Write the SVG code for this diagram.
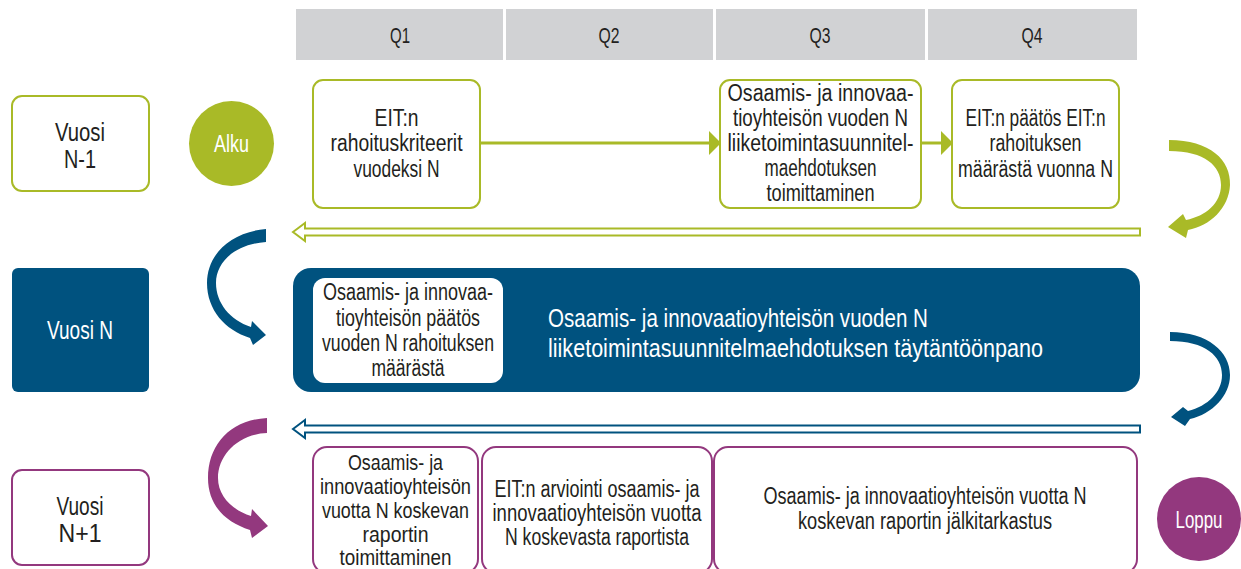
<svg xmlns="http://www.w3.org/2000/svg" width="1241" height="569" viewBox="0 0 1241 569">
<style>
text{font-family:"Liberation Sans",Arial,sans-serif;text-anchor:middle;fill:#231f20}
.hdr{fill:#d1d2d4}
.q{font-size:22px}
.t{font-size:23px}
.s{font-size:22px}
.big{font-size:25px;fill:#fff;text-anchor:start}
.yr{font-size:25px}
.w{fill:#fff}
.gbox{fill:#fff;stroke:#a9ba27;stroke-width:2}
.pbox{fill:#fff;stroke:#93387e;stroke-width:2}
.gfill{fill:#a9ba27}
.bfill{fill:#00527f}
.pfill{fill:#93387e}
.line{stroke:#a9ba27;stroke-width:3;fill:none}
</style>
<defs>
<marker id="ah" markerWidth="12" markerHeight="24" refX="11" refY="12" orient="auto" markerUnits="userSpaceOnUse">
<path d="M0,0 L12,12 L0,24 Z" fill="#a9ba27"/>
</marker>
</defs>

<g id="header">
<rect class="hdr" x="296" y="9" width="207" height="51"/>
<rect class="hdr" x="506" y="9" width="207" height="51"/>
<rect class="hdr" x="716" y="9" width="209" height="51"/>
<rect class="hdr" x="928" y="9" width="209" height="51"/>
<text class="q" x="400" y="43" textLength="20" lengthAdjust="spacingAndGlyphs">Q1</text>
<text class="q" x="609" y="43" textLength="21" lengthAdjust="spacingAndGlyphs">Q2</text>
<text class="q" x="820" y="43" textLength="21" lengthAdjust="spacingAndGlyphs">Q3</text>
<text class="q" x="1032" y="43" textLength="21" lengthAdjust="spacingAndGlyphs">Q4</text>
</g>

<g id="vuosi-n-1">
<rect class="gbox" x="12" y="96" width="137" height="95" rx="10"/>
<text class="yr" x="80" y="141" textLength="50" lengthAdjust="spacingAndGlyphs">Vuosi</text>
<text class="yr" x="80" y="168" textLength="32" lengthAdjust="spacingAndGlyphs">N-1</text>
</g>

<g id="alku">
<circle class="gfill" cx="231.5" cy="143.5" r="42.5"/>
<text class="t w" x="231.5" y="152" textLength="35" lengthAdjust="spacingAndGlyphs">Alku</text>
</g>

<g id="box-q1">
<rect class="gbox" x="313" y="80" width="167" height="128" rx="10"/>
<text class="t" x="396.5" y="126" textLength="44" lengthAdjust="spacingAndGlyphs">EIT:n</text>
<text class="t" x="396.5" y="151" textLength="132" lengthAdjust="spacingAndGlyphs">rahoituskriteerit</text>
<text class="t" x="396.5" y="177" textLength="86" lengthAdjust="spacingAndGlyphs">vuodeksi N</text>
</g>

<g id="box-q3">
<rect class="gbox" x="720" y="80" width="201" height="128" rx="10"/>
<text class="t" x="820.5" y="101" textLength="186" lengthAdjust="spacingAndGlyphs">Osaamis- ja innovaa-</text>
<text class="t" x="820.5" y="126" textLength="175" lengthAdjust="spacingAndGlyphs">tioyhteisön vuoden N</text>
<text class="t" x="820.5" y="151" textLength="186" lengthAdjust="spacingAndGlyphs">liiketoimintasuunnitel-</text>
<text class="t" x="820.5" y="176" textLength="112" lengthAdjust="spacingAndGlyphs">maehdotuksen</text>
<text class="t" x="820.5" y="201" textLength="108" lengthAdjust="spacingAndGlyphs">toimittaminen</text>
</g>

<g id="box-q4">
<rect class="gbox" x="952" y="80" width="167" height="128" rx="10"/>
<text class="t" x="1035.5" y="126" textLength="140" lengthAdjust="spacingAndGlyphs">EIT:n päätös EIT:n</text>
<text class="t" x="1035.5" y="151" textLength="92" lengthAdjust="spacingAndGlyphs">rahoituksen</text>
<text class="t" x="1035.5" y="177" textLength="155" lengthAdjust="spacingAndGlyphs">määrästä vuonna N</text>
</g>

<g id="vuosi-n">
<rect class="bfill" x="12" y="268" width="137" height="124" rx="6"/>
<text class="yr w" x="80" y="339" textLength="66" lengthAdjust="spacingAndGlyphs">Vuosi N</text>
</g>

<g id="toteutus">
<rect class="bfill" x="293" y="268" width="847" height="124" rx="18"/>
<text class="big" x="548" y="327" textLength="380" lengthAdjust="spacingAndGlyphs">Osaamis- ja innovaatioyhteisön vuoden N</text>
<text class="big" x="548" y="357" textLength="495" lengthAdjust="spacingAndGlyphs">liiketoimintasuunnitelmaehdotuksen täytäntöönpano</text>
</g>

<g id="paatos">
<rect fill="#fff" x="313" y="278" width="190" height="105" rx="12"/>
<text class="t" x="408" y="300" textLength="170" lengthAdjust="spacingAndGlyphs">Osaamis- ja innovaa-</text>
<text class="t" x="408" y="326" textLength="144" lengthAdjust="spacingAndGlyphs">tioyhteisön päätös</text>
<text class="t" x="408" y="351" textLength="172" lengthAdjust="spacingAndGlyphs">vuoden N rahoituksen</text>
<text class="t" x="408" y="376" textLength="73" lengthAdjust="spacingAndGlyphs">määrästä</text>
</g>

<g id="vuosi-n1">
<rect class="pbox" x="12" y="470" width="137" height="95" rx="10"/>
<text class="yr" x="80" y="515" textLength="47" lengthAdjust="spacingAndGlyphs">Vuosi</text>
<text class="yr" x="80" y="542" textLength="43" lengthAdjust="spacingAndGlyphs">N+1</text>
</g>

<g id="raportti">
<rect class="pbox" x="313" y="447" width="165" height="126" rx="14"/>
<text class="s" x="395.5" y="470" textLength="95" lengthAdjust="spacingAndGlyphs">Osaamis- ja</text>
<text class="s" x="395.5" y="494" textLength="151" lengthAdjust="spacingAndGlyphs">innovaatioyhteisön</text>
<text class="s" x="395.5" y="518" textLength="147" lengthAdjust="spacingAndGlyphs">vuotta N koskevan</text>
<text class="s" x="395.5" y="542" textLength="66" lengthAdjust="spacingAndGlyphs">raportin</text>
<text class="s" x="395.5" y="565" textLength="112" lengthAdjust="spacingAndGlyphs">toimittaminen</text>
</g>

<g id="arviointi">
<rect class="pbox" x="482" y="447" width="230" height="126" rx="14"/>
<text class="t" x="597" y="497" textLength="205" lengthAdjust="spacingAndGlyphs">EIT:n arviointi osaamis- ja</text>
<text class="t" x="597" y="521" textLength="209" lengthAdjust="spacingAndGlyphs">innovaatioyhteisön vuotta</text>
<text class="t" x="597" y="545" textLength="184" lengthAdjust="spacingAndGlyphs">N koskevasta raportista</text>
</g>

<g id="jalkitarkastus">
<rect class="pbox" x="714" y="447" width="423" height="126" rx="14"/>
<text class="t" x="925" y="504" textLength="323" lengthAdjust="spacingAndGlyphs">Osaamis- ja innovaatioyhteisön vuotta N</text>
<text class="t" x="925" y="529" textLength="254" lengthAdjust="spacingAndGlyphs">koskevan raportin jälkitarkastus</text>
</g>

<g id="loppu">
<circle class="pfill" cx="1199" cy="519" r="42"/>
<text class="t w" x="1199" y="528" textLength="47" lengthAdjust="spacingAndGlyphs">Loppu</text>
</g>

<g id="connectors">
<line class="line" x1="480" y1="143" x2="720" y2="143" marker-end="url(#ah)"/>
<line class="line" x1="921" y1="143" x2="952" y2="143" marker-end="url(#ah)"/>
<path class="gfill" d="M1169,140 C1210,140 1231,160 1230,185 C1229,208 1210,226 1188,230 L1186,238 L1168,227 L1183,214 L1186,220 C1206,216 1221,203 1221,185 C1221,166 1205,151 1169,151 Z"/>
<polygon points="293,232 305,223 305,228.5 1140,228.5 1140,235.5 305,235.5 305,241" fill="#fff" stroke="#a9ba27" stroke-width="2"/>
<path class="bfill" d="M266,229 C230,232 207,255 207,283 C207,310 225,330 250,338 L253,345 L266,335 L252,321 L251,327 C230,320 216,303 216,283 C216,262 235,244 266,242 Z"/>
<path class="bfill" d="M1170,332 C1208,332 1230,352 1230,375 C1230,396 1212,414 1190,419 L1185,426 L1171,417 L1183,407 L1188,411 C1208,406 1222,392 1222,375 C1222,356 1205,341 1170,341 Z"/>
<polygon points="293,429 305,420 305,425.5 1140,425.5 1140,432.5 305,432.5 305,438" fill="#fff" stroke="#00527f" stroke-width="2"/>
<path class="pfill" d="M267,418 C230,420 208,445 208,478 C208,505 225,522 250,530 L252,538 L268,526 L252,509 L251,516 C232,510 218,496 218,478 C218,455 238,434 267,433 Z"/>
</g>
</svg>
